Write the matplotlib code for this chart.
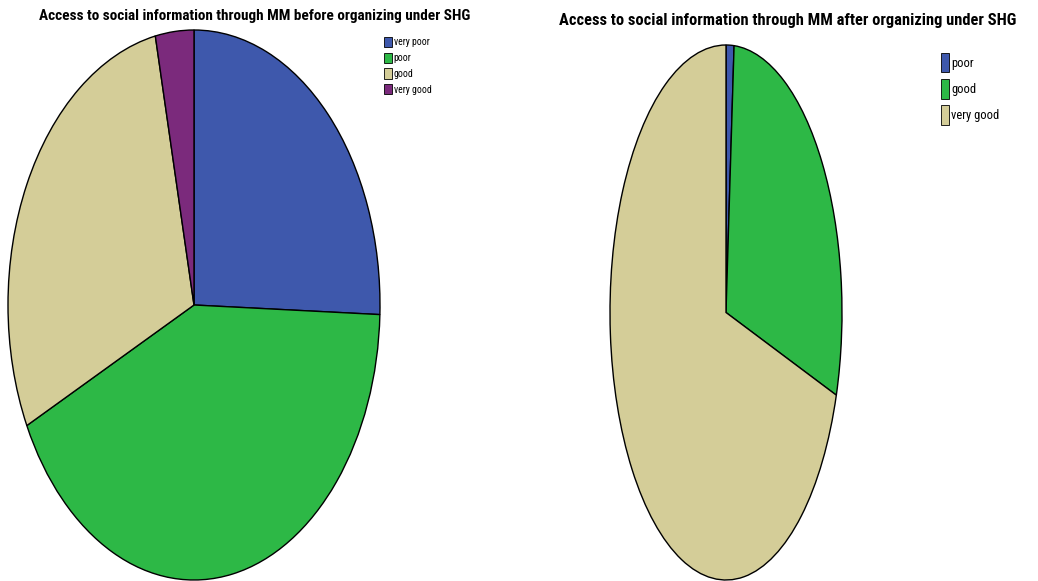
import matplotlib
matplotlib.use("Agg")
import matplotlib.pyplot as plt
from matplotlib import font_manager
from matplotlib.font_manager import FontProperties
from matplotlib.patches import Patch

# prefer a narrow face if one is installed
narrow = None
for fam in ["Liberation Sans Narrow", "DejaVu Sans Condensed", "Roboto Condensed", "Open Sans Condensed"]:
	try:
		p = font_manager.findfont(FontProperties(family=fam), fallback_to_default=False)
		narrow = fam
		break
	except Exception:
		pass
if narrow is None:
	plt.rcParams['font.family'] = ['Liberation Sans', 'DejaVu Sans']
else:
	plt.rcParams['font.family'] = [narrow, 'Liberation Sans', 'DejaVu Sans']

# respondent counts per rating, before and after joining the SHG
before_labels = ["very poor", "poor", "good", "very good"]
before_counts = [23, 38, 26, 3]
before_colors = ["#3e58ac", "#2db846", "#d4cd98", "#7b2a7c"]

after_labels = ["poor", "good", "very good"]
after_counts = [1, 26, 63]
after_colors = ["#3e58ac", "#2db846", "#d4cd98"]

W, H = 1038, 581
fig = plt.figure(figsize=(W / 100, H / 100), dpi=100)


def px_axes(x0, y0, x1, y1):
	# axes from pixel box (top-left origin)
	return fig.add_axes([x0 / W, (H - y1) / H, (x1 - x0) / W, (y1 - y0) / H])


def stretched_pie(ax, counts, colors):
	ax.pie(counts, colors=colors, startangle=90, counterclock=False,
		wedgeprops=dict(edgecolor="black", linewidth=1.0))
	ax.set_aspect("auto")
	ax.set_xlim(-1.0, 1.0)
	ax.set_ylim(-1.0, 1.0)
	ax.axis("off")


def fitted_title(cx, cy, s, width, size):
	# scale the font so the title spans the given pixel width
	t = fig.text(cx / W, 1 - cy / H, s, ha="center", va="center", fontsize=size, fontweight="bold")
	r = fig.canvas.get_renderer()
	w = t.get_window_extent(renderer=r).width
	t.set_fontsize(size * width / w)
	return t


ax1 = px_axes(8, 30, 380, 580)
stretched_pie(ax1, before_counts, before_colors)

ax2 = px_axes(610, 45, 842, 580)
stretched_pie(ax2, after_counts, after_colors)

fitted_title(255, 16, "Access to social information through MM before organizing under SHG", 434, 12.5)
fitted_title(788, 20, "Access to social information through MM after organizing under SHG", 458, 16)

h1 = [Patch(facecolor=c, edgecolor="black", linewidth=0.6) for c in before_colors]
fig.legend(h1, before_labels, loc="upper left", bbox_to_anchor=(380 / W, 1 - 33 / H),
	frameon=False, fontsize=7, handlelength=0.8, handleheight=1.25,
	handletextpad=0.2, labelspacing=0.55, borderaxespad=0)

h2 = [Patch(facecolor=c, edgecolor="black", linewidth=0.6) for c in after_colors]
fig.legend(h2, after_labels, loc="upper left", bbox_to_anchor=(936 / W, 1 - 48 / H),
	frameon=False, fontsize=9, handlelength=0.65, handleheight=2.0,
	handletextpad=0.15, labelspacing=0.55, borderaxespad=0)

fig.savefig("out.png", dpi=100)
